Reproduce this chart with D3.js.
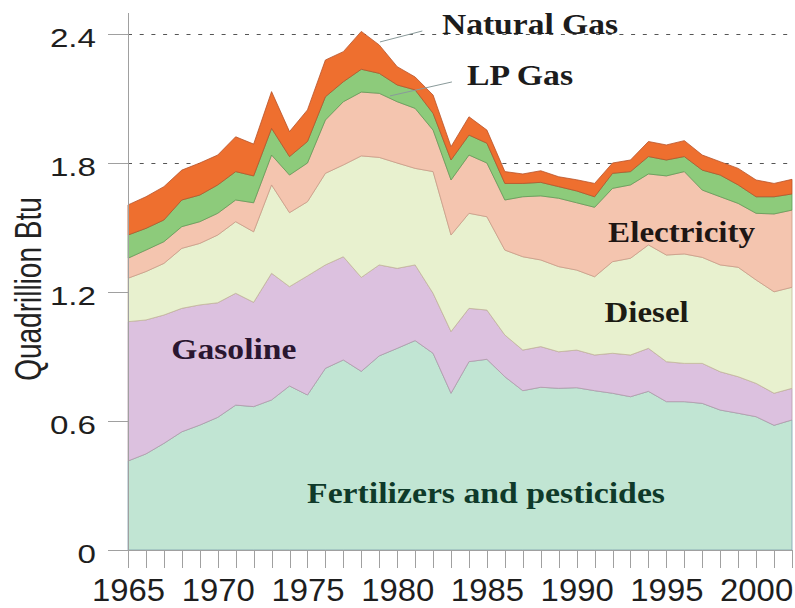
<!DOCTYPE html>
<meta charset="utf-8">
<script src="https://d3js.org/d3.v7.min.js"></script>
<style>
body { margin: 0; background: #fff; }
.axis path, .axis line { stroke: #a0a0a0; shape-rendering: crispEdges; }
.axis text { font-family: "Liberation Sans", Arial, sans-serif; fill: #1e1e1e; }
.label { font-family: "Liberation Serif", "Times New Roman", serif; font-weight: bold; }
</style>
<div id="my_dataviz"></div>
<script>

  // data (Quadrillion Btu, per year)
  var years = [1965, 1966, 1967, 1968, 1969, 1970, 1971, 1972, 1973, 1974,
               1975, 1976, 1977, 1978, 1979, 1980, 1981, 1982, 1983, 1984,
               1985, 1986, 1987, 1988, 1989, 1990, 1991, 1992, 1993, 1994,
               1995, 1996, 1997, 1998, 1999, 2000, 2001, 2002];

  var fertilizers = [0.414, 0.447, 0.496, 0.55, 0.581, 0.617, 0.674, 0.667, 0.698, 0.763,
                     0.721, 0.845, 0.884, 0.831, 0.903, 0.938, 0.974, 0.915, 0.729, 0.876,
                     0.887, 0.806, 0.741, 0.757, 0.752, 0.755, 0.741, 0.729, 0.713, 0.738,
                     0.69, 0.69, 0.682, 0.651, 0.636, 0.62, 0.58, 0.605];
  var gasoline = [0.648, 0.623, 0.597, 0.574, 0.559, 0.533, 0.52, 0.485, 0.589, 0.462,
                  0.554, 0.481, 0.48, 0.437, 0.423, 0.372, 0.352, 0.279, 0.287, 0.248,
                  0.229, 0.194, 0.189, 0.189, 0.17, 0.175, 0.166, 0.186, 0.194, 0.2,
                  0.186, 0.178, 0.186, 0.178, 0.17, 0.155, 0.149, 0.147];
  var diesel = [0.202, 0.225, 0.24, 0.279, 0.286, 0.315, 0.333, 0.328, 0.411, 0.344,
                0.345, 0.426, 0.427, 0.565, 0.5, 0.49, 0.449, 0.566, 0.449, 0.442,
                0.434, 0.395, 0.434, 0.403, 0.396, 0.372, 0.364, 0.426, 0.45, 0.481,
                0.496, 0.509, 0.493, 0.497, 0.509, 0.481, 0.472, 0.47];
  var electricity = [0.093, 0.1, 0.101, 0.101, 0.101, 0.101, 0.101, 0.135, 0.139, 0.175,
                     0.18, 0.248, 0.294, 0.297, 0.298, 0.285, 0.279, 0.193, 0.256, 0.271,
                     0.25, 0.233, 0.279, 0.298, 0.318, 0.313, 0.323, 0.341, 0.341, 0.33,
                     0.368, 0.383, 0.313, 0.317, 0.297, 0.31, 0.362, 0.359];
  var lpGas = [0.108, 0.101, 0.101, 0.124, 0.124, 0.132, 0.132, 0.125, 0.124, 0.086,
               0.1, 0.108, 0.093, 0.106, 0.093, 0.078, 0.086, 0.078, 0.093, 0.093,
               0.092, 0.077, 0.062, 0.063, 0.054, 0.055, 0.049, 0.07, 0.062, 0.081,
               0.074, 0.07, 0.093, 0.101, 0.086, 0.077, 0.08, 0.075];
  var naturalGas = [0.14, 0.147, 0.155, 0.139, 0.149, 0.139, 0.162, 0.148, 0.171, 0.116,
                    0.147, 0.171, 0.14, 0.176, 0.132, 0.085, 0.06, 0.085, 0.062, 0.085,
                    0.061, 0.055, 0.044, 0.054, 0.046, 0.052, 0.062, 0.048, 0.054, 0.07,
                    0.07, 0.074, 0.07, 0.062, 0.077, 0.078, 0.062, 0.068];

  var yTicks = [0, 0.6, 1.2, 1.8, 2.4];
  var xTickLabels = [1965, 1970, 1975, 1980, 1985, 1990, 1995, 2000];

  var keys = ["fertilizers", "gasoline", "diesel", "electricity", "lpGas", "naturalGas"];
  var colors = {
    fertilizers: "#c1e5d3",
    gasoline: "#dcc1df",
    diesel: "#e8f1cf",
    electricity: "#f4c5af",
    lpGas: "#8dcb7b",
    naturalGas: "#ee6f2f"
  };
  var edges = {
    fertilizers: "#7f9fae",
    gasoline: "#b59aa8",
    diesel: "#c4b89a",
    electricity: "#c99a86",
    lpGas: "#5f9a55",
    naturalGas: "#b8532a"
  };

  var table = years.map(function (yr, i) {
    return {
      year: yr,
      fertilizers: fertilizers[i],
      gasoline: gasoline[i],
      diesel: diesel[i],
      electricity: electricity[i],
      lpGas: lpGas[i],
      naturalGas: naturalGas[i]
    };
  });
  var series = d3.stack().keys(keys)(table);

  var width = 795, height = 608;

  var svg = d3.select("#my_dataviz")
    .append("svg")
      .attr("width", width)
      .attr("height", height);

  var x = d3.scaleLinear().domain([1965, 2002]).range([128, 792]);
  var y = d3.scaleLinear().domain([0, 2.5]).range([550, 12.5]);

  // dashed grid lines
  svg.append("g")
    .selectAll("line")
    .data(yTicks.slice(1))
    .enter()
    .append("line")
      .attr("x1", x(1965))
      .attr("x2", x(2002))
      .attr("y1", function (d) { return Math.round(y(d)) + 0.5; })
      .attr("y2", function (d) { return Math.round(y(d)) + 0.5; })
      .style("stroke", "#555")
      .style("stroke-width", 1)
      .style("stroke-dasharray", "4,7.7");

  // stacked areas
  var area = d3.area()
    .x(function (d) { return x(d.data.year); })
    .y0(function (d) { return y(d[0]); })
    .y1(function (d) { return y(d[1]); });

  svg.append("g")
    .selectAll("path")
    .data(series)
    .enter()
    .append("path")
      .attr("d", area)
      .style("fill", function (d) { return colors[d.key]; })
      .style("stroke", function (d) { return edges[d.key]; })
      .style("stroke-width", 0.8)
      .style("stroke-linejoin", "round");

  // stretch text horizontally like the original
  function stretch(sel, k) {
    sel.each(function () {
      var w = this.getComputedTextLength();
      d3.select(this)
        .attr("textLength", w * k)
        .attr("lengthAdjust", "spacingAndGlyphs");
    });
  }

  // Y axis
  var yAxis = svg.append("g")
    .attr("class", "axis")
    .attr("transform", "translate(" + x(1965) + ",0)")
    .call(d3.axisLeft(y).tickValues(yTicks).tickSize(20).tickSizeOuter(0).tickPadding(12)
      .tickFormat(function (d) { return d === 0 ? "0" : d3.format(".1f")(d); }));
  yAxis.selectAll("text")
    .style("font-size", "25.5px")
    .attr("dy", "0.49em")
    .call(stretch, 1.3);

  // X axis
  var xAxis = svg.append("g")
    .attr("class", "axis")
    .attr("transform", "translate(0," + y(0) + ")")
    .call(d3.axisBottom(x).tickValues(years).tickSize(18).tickSizeOuter(0).tickPadding(11)
      .tickFormat(function (d) { return xTickLabels.indexOf(d) >= 0 ? d : ""; }));
  xAxis.select(".domain").attr("d", "M" + (x(1965) - 20) + ",0.5H" + x(2002));
  xAxis.selectAll("text")
    .style("font-size", "31px")
    .call(stretch, 1.06);

  // Y axis title
  svg.append("text")
    .attr("transform", "translate(41," + 289 + ") scale(1.3,1) rotate(-90)")
    .attr("text-anchor", "middle")
    .style("font-family", "'Liberation Sans', Arial, sans-serif")
    .style("font-size", "28px")
    .style("fill", "#222")
    .text("Quadrillion Btu");

  // leader lines for the thin layers
  var leaders = [
    [[1979.04, 2.363], [1981.4, 2.414]],
    [[1979.6, 2.112], [1983.05, 2.177]]
  ];
  svg.append("g")
    .selectAll("line")
    .data(leaders)
    .enter()
    .append("line")
      .attr("x1", function (d) { return x(d[0][0]); })
      .attr("y1", function (d) { return y(d[0][1]); })
      .attr("x2", function (d) { return x(d[1][0]); })
      .attr("y2", function (d) { return y(d[1][1]); })
      .style("stroke", "#8a9a9a")
      .style("stroke-width", 1);

  // series labels
  var labels = [
    {text: "Natural Gas", year: 1987.4, value: 2.40, len: 176, color: "#1c1c1c"},
    {text: "LP Gas", year: 1986.85, value: 2.163, len: 106, color: "#1c1c1c"},
    {text: "Electricity", year: 1995.85, value: 1.433, len: 147, color: "#1e1614"},
    {text: "Diesel", year: 1993.9, value: 1.06, len: 84, color: "#1c1c14"},
    {text: "Gasoline", year: 1970.9, value: 0.888, len: 125, color: "#2a1630"},
    {text: "Fertilizers and pesticides", year: 1984.95, value: 0.219, len: 358, color: "#0f3a2a"}
  ];
  svg.append("g")
    .selectAll("text")
    .data(labels)
    .enter()
    .append("text")
      .attr("class", "label")
      .attr("x", function (d) { return x(d.year); })
      .attr("y", function (d) { return y(d.value); })
      .attr("text-anchor", "middle")
      .attr("textLength", function (d) { return d.len; })
      .attr("lengthAdjust", "spacingAndGlyphs")
      .style("font-size", "29px")
      .style("fill", function (d) { return d.color; })
      .text(function (d) { return d.text; });

</script>
